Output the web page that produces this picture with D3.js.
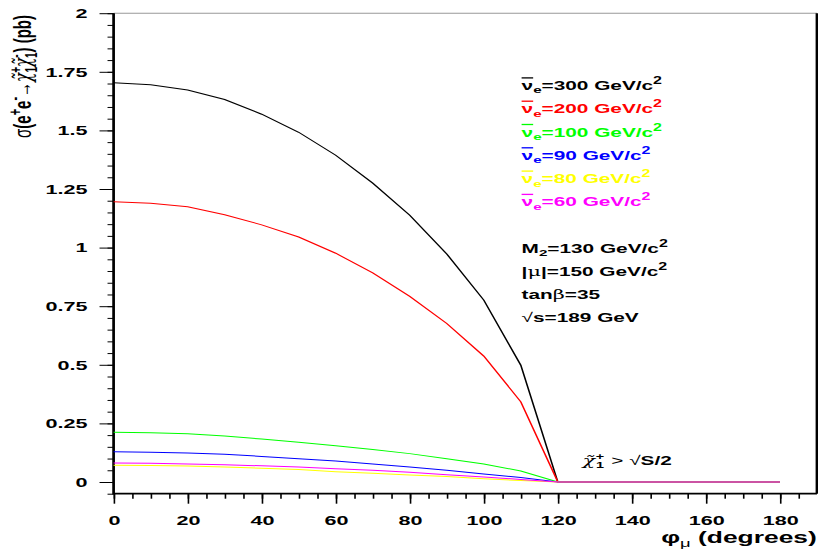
<!DOCTYPE html>
<html>
<head>
<meta charset="utf-8">
<script src="https://cdn.jsdelivr.net/npm/d3@7"></script>
<style>
  body { margin: 0; background: #fff; }
  svg text { font-family: "Liberation Sans", Arial, Helvetica, sans-serif; font-weight: bold; }
</style>
</head>
<body>
<script>
// phi_mu in degrees
const phi = [0, 10, 20, 30, 40, 50, 60, 70, 80, 90, 100, 110, 120, 130, 140, 150, 160, 170, 180];

// cross sections (pb), one list per sneutrino mass
const sigma300 = [1.703, 1.695, 1.672, 1.632, 1.569, 1.492, 1.394, 1.275, 1.138, 0.973, 0.776, 0.498, 0, 0, 0, 0, 0, 0, 0];
const sigma200 = [1.196, 1.189, 1.174, 1.140, 1.097, 1.045, 0.976, 0.892, 0.792, 0.676, 0.537, 0.342, 0, 0, 0, 0, 0, 0, 0];
const sigma100 = [0.212, 0.210, 0.206, 0.196, 0.183, 0.169, 0.155, 0.139, 0.121, 0.099, 0.077, 0.047, 0, 0, 0, 0, 0, 0, 0];
const sigma90  = [0.129, 0.127, 0.124, 0.118, 0.109, 0.099, 0.089, 0.077, 0.064, 0.050, 0.034, 0.019, 0, 0, 0, 0, 0, 0, 0];
const sigma80  = [0.071, 0.070, 0.068, 0.064, 0.059, 0.053, 0.044, 0.037, 0.030, 0.023, 0.014, 0.006, 0, 0, 0, 0, 0, 0, 0];
const sigma60  = [0.081, 0.080, 0.077, 0.074, 0.069, 0.064, 0.056, 0.050, 0.041, 0.031, 0.021, 0.011, 0, 0, 0, 0, 0, 0, 0];

const masses = ['300', '200', '100', '90', '80', '60'];
const seriesColors = ['#000000', '#ff0000', '#00ff00', '#0000ff', '#ffff00', '#ff00ff'];
const allSeries = [sigma300, sigma200, sigma100, sigma90, sigma80, sigma60];

const yTicks = [0, 0.25, 0.5, 0.75, 1, 1.25, 1.5, 1.75, 2];
const xTicks = [0, 20, 40, 60, 80, 100, 120, 140, 160, 180];

// the picture is a horizontally stretched ROOT canvas, so draw narrow and stretch
const W = 511.25, H = 552;
const svg = d3.select('body').append('svg')
    .attr('width', 818)
    .attr('height', 552)
    .attr('viewBox', `0 0 ${W} ${H}`)
    .attr('preserveAspectRatio', 'none');

const x = d3.scaleLinear().domain([0, 190]).range([71, 510.6]);
const y = d3.scaleLinear().domain([-0.05, 2]).range([493.7, 13.2]);

// frame
svg.append('line')
    .attr('x1', x(0)).attr('x2', x(190))
    .attr('y1', y(2)).attr('y2', y(2))
    .attr('stroke', '#999').attr('stroke-width', 1);
svg.append('line')
    .attr('x1', x(190)).attr('x2', x(190))
    .attr('y1', y(2)).attr('y2', y(-0.05))
    .attr('stroke', '#000').attr('stroke-width', 1.7);

// y axis: major + minor ticks
const yMinor = d3.range(-0.05, 2.0001, 0.05).map(d => +d.toFixed(2));
const yAxisG = svg.append('g').attr('transform', `translate(${x(0)},0)`);
yAxisG.call(d3.axisLeft(y).tickValues(yMinor).tickSize(3.8).tickFormat(''));
yAxisG.select('.domain').remove();
const yMajorG = svg.append('g').attr('transform', `translate(${x(0)},0)`);
yMajorG.call(d3.axisLeft(y).tickValues(yTicks).tickSize(8.8).tickPadding(7.5).tickFormat(d => String(d)));
yMajorG.select('.domain').remove();
yMajorG.selectAll('text')
    .attr('font-size', 13.5)
    .attr('font-family', null)
    .attr('fill', '#000');

// x axis
const xMinor = d3.range(0, 190, 5);
const xAxisG = svg.append('g').attr('transform', `translate(0,${y(-0.05)})`);
xAxisG.call(d3.axisBottom(x).tickValues(xMinor).tickSize(5).tickFormat(''));
xAxisG.select('.domain').remove();
const xMajorG = svg.append('g').attr('transform', `translate(0,${y(-0.05)})`);
xMajorG.call(d3.axisBottom(x).tickValues(xTicks).tickSize(10).tickFormat(d => String(d)));
xMajorG.select('.domain').remove();
xMajorG.selectAll('text')
    .attr('y', 21.5)
    .attr('font-size', 13.5)
    .attr('font-family', null)
    .attr('fill', '#000');
svg.selectAll('.tick line').attr('stroke', '#000');

// axis lines
svg.append('line')
    .attr('x1', x(0)).attr('x2', x(0))
    .attr('y1', y(2)).attr('y2', y(-0.05) + 0.8)
    .attr('stroke', '#000').attr('stroke-width', 1.7);
svg.append('line')
    .attr('x1', x(0)).attr('x2', x(190))
    .attr('y1', y(-0.05)).attr('y2', y(-0.05))
    .attr('stroke', '#000').attr('stroke-width', 1.7);

// curves
const line = d3.line()
    .x((d, i) => x(phi[i]))
    .y(d => y(d));

svg.append('g').selectAll('path')
    .data(allSeries)
    .enter().append('path')
    .attr('d', line)
    .attr('fill', 'none')
    .attr('stroke', (d, i) => seriesColors[i])
    .attr('stroke-width', 1);

// legend
const legend = svg.append('g');
masses.forEach((m, i) => {
    const t = legend.append('text')
        .attr('x', 326)
        .attr('y', 90 + i * 23.3)
        .attr('font-size', 13)
        .attr('fill', seriesColors[i]);
    t.append('tspan').style('text-decoration', 'overline').text('\u03bd');
    t.append('tspan').attr('font-size', 9.5).attr('dy', 3.5).text('e');
    t.append('tspan').attr('dy', -3.5).text(`=${m} GeV/c`);
    t.append('tspan').attr('font-size', 10).attr('dy', -6).text('2');
});

// parameter block
const pY = [253, 276, 299, 322];
const p0 = svg.append('text').attr('x', 326).attr('y', pY[0]).attr('font-size', 13);
p0.append('tspan').text('M');
p0.append('tspan').attr('font-size', 9.5).attr('dy', 3.5).text('2');
p0.append('tspan').attr('dy', -3.5).text('=130 GeV/c');
p0.append('tspan').attr('font-size', 10).attr('dy', -6).text('2');

const p1 = svg.append('text').attr('x', 326).attr('y', pY[1]).attr('font-size', 13);
p1.append('tspan').text('|');
p1.append('tspan').attr('font-weight', 'normal').attr('font-family', 'DejaVu Serif').text('\u03bc');
p1.append('tspan').text('|=150 GeV/c');
p1.append('tspan').attr('font-size', 10).attr('dy', -6).text('2');

const p2 = svg.append('text').attr('x', 326).attr('y', pY[2]).attr('font-size', 13);
p2.append('tspan').text('tan');
p2.append('tspan').attr('font-weight', 'normal').attr('font-family', 'DejaVu Serif').text('\u03b2');
p2.append('tspan').text('=35');

const p3 = svg.append('text').attr('x', 326).attr('y', pY[3]).attr('font-size', 13);
p3.append('tspan').attr('font-weight', 'normal').text('\u221a');
p3.append('tspan').text('s=189 GeV');

// threshold annotation
const ann = svg.append('text').attr('x', 364).attr('y', 465).attr('font-size', 13);
ann.append('tspan').attr('font-weight', 'normal').attr('font-family', 'DejaVu Serif').attr('font-style', 'italic').text('\u03c7\u0303');
ann.append('tspan').attr('font-size', 9).attr('dx', 0.5).attr('dy', -5).text('+');
ann.append('tspan').attr('font-size', 9).attr('dx', -5.2).attr('dy', 8).text('1');
ann.append('tspan').attr('dx', 1).attr('dy', -3).attr('font-weight', 'normal').text(' > \u221a');
ann.append('tspan').text('S/2');

// x title
const xt = svg.append('text')
    .attr('x', 510.5)
    .attr('y', 543)
    .attr('text-anchor', 'end')
    .attr('font-size', 16.5);
xt.append('tspan').text('\u03c6');
xt.append('tspan').attr('font-size', 11.5).attr('font-weight', 'normal').attr('dy', 4).text('\u03bc');
xt.append('tspan').attr('dy', -4).text(' (degrees)');

// y title
const yt = svg.append('text')
    .attr('transform', 'translate(19.4,15) rotate(-90)')
    .attr('text-anchor', 'end')
    .attr('font-size', 15);
yt.append('tspan').attr('font-weight', 'normal').text('\u03c3');
yt.append('tspan').text('(e');
yt.append('tspan').attr('font-size', 11).attr('dy', -6).text('+');
yt.append('tspan').attr('dy', 6).text('e');
yt.append('tspan').attr('font-size', 11).attr('dy', -6).text('-');
yt.append('tspan').attr('dy', 6).attr('font-weight', 'normal').text('\u2192');
yt.append('tspan').attr('font-weight', 'normal').attr('font-family', 'DejaVu Serif').attr('font-style', 'italic').text('\u03c7\u0303');
yt.append('tspan').attr('font-size', 10).attr('dy', -6).text('+');
yt.append('tspan').attr('font-size', 10).attr('dx', -5.5).attr('dy', 10).text('1');
yt.append('tspan').attr('dy', -4).attr('font-weight', 'normal').attr('font-family', 'DejaVu Serif').attr('font-style', 'italic').text('\u03c7\u0303');
yt.append('tspan').attr('font-size', 10).attr('dy', -6).text('-');
yt.append('tspan').attr('font-size', 10).attr('dx', -3.5).attr('dy', 10).text('1');
yt.append('tspan').attr('dy', -4).text(') (pb)');
</script>
</body>
</html>
